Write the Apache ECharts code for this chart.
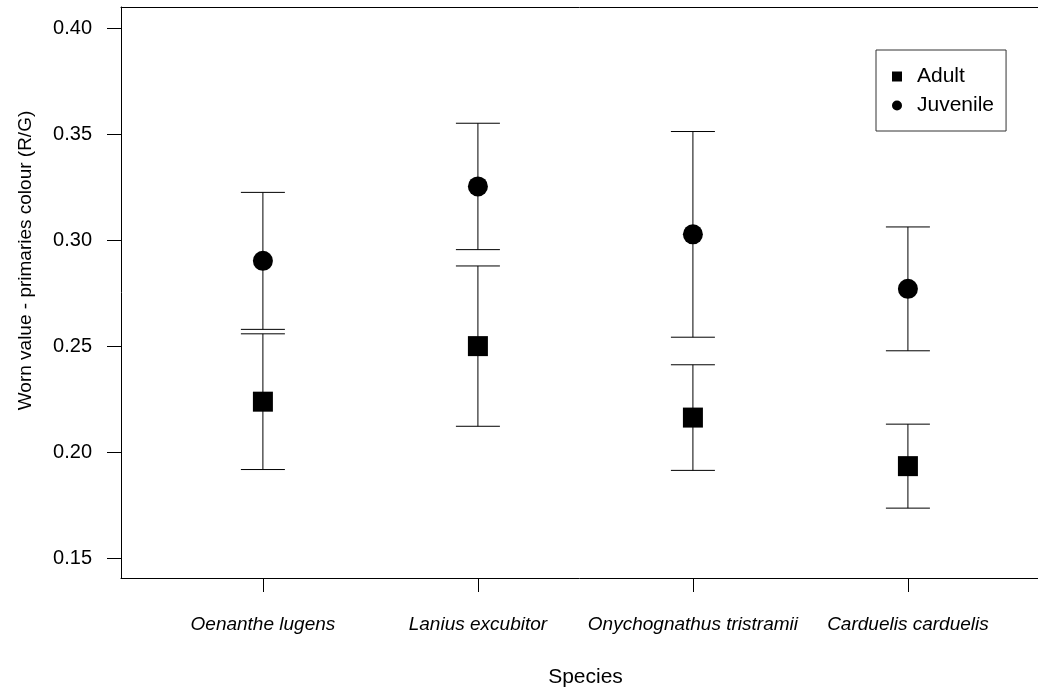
<!DOCTYPE html>
<html>
<head>
<meta charset="utf-8">
<title>Worn value - primaries colour</title>
<script src="https://cdn.jsdelivr.net/npm/echarts@6/dist/echarts.min.js"></script>
<style>
  html, body { margin: 0; padding: 0; background: #ffffff; }
  #chart { width: 1038px; height: 689px; }
</style>
</head>
<body>
<div id="chart"></div>
<script>
// Species along the x axis (positions 1..4)
const species = ['Oenanthe lugens', 'Lanius excubitor', 'Onychognathus tristramii', 'Carduelis carduelis'];

// Mean worn R/G value and half-width of the error bar, per species
const adultMean = [0.2238, 0.2500, 0.2163, 0.1934];
const adultErr = [0.0320, 0.0378, 0.0249, 0.0198];
const juvenileMean = [0.2902, 0.3253, 0.3027, 0.2770];
const juvenileErr = [0.0323, 0.0298, 0.0485, 0.0292];

// Tick values
const xTicks = [1, 2, 3, 4];
const yTicks = [0.15, 0.20, 0.25, 0.30, 0.35, 0.40];

const FONT = '"Liberation Sans", Arial, Helvetica, sans-serif';
const INK = '#000000';

function points(means) {
  return means.map((m, i) => [xTicks[i], m]);
}
function bars(means, errs) {
  return means.map((m, i) => [xTicks[i], m - errs[i], m + errs[i]]);
}

// Vertical error bar with flat caps at both ends
function renderErrorBar(params, api) {
  const x = api.value(0);
  const lo = api.coord([x, api.value(1)]);
  const hi = api.coord([x, api.value(2)]);
  const half = 22;
  const style = { stroke: INK, lineWidth: 1, fill: null };
  return {
    type: 'group',
    children: [
      { type: 'line', shape: { x1: lo[0], y1: lo[1], x2: hi[0], y2: hi[1] }, style },
      { type: 'line', shape: { x1: hi[0] - half, y1: hi[1], x2: hi[0] + half, y2: hi[1] }, style },
      { type: 'line', shape: { x1: lo[0] - half, y1: lo[1], x2: lo[0] + half, y2: lo[1] }, style }
    ]
  };
}

const chart = echarts.init(document.getElementById('chart'), null, { renderer: 'canvas' });

chart.setOption({
  animation: false,
  backgroundColor: '#ffffff',
  textStyle: { fontFamily: FONT, color: INK },
  grid: { left: 121, right: 0, top: 7, bottom: 111, containLabel: false, outerBoundsMode: 'none' },
  legend: {
    orient: 'vertical',
    left: 876,
    top: 50,
    data: ['Adult', 'Juvenile'],
    itemWidth: 10,
    itemHeight: 10,
    itemGap: 8,
    padding: [16, 12, 15, 16],
    borderColor: '#333333',
    borderWidth: 1,
    backgroundColor: '#ffffff',
    textStyle: { fontFamily: FONT, fontSize: 21, color: INK, padding: [0, 0, 0, 10], lineHeight: 21 },
    selectedMode: false
  },
  xAxis: [
    {
      type: 'value',
      position: 'bottom',
      min: 0.34,
      max: 4.605,
      name: 'Species',
      nameLocation: 'middle',
      nameGap: 89,
      nameTextStyle: { fontFamily: FONT, fontSize: 21, color: INK, padding: [0, 0, 0, 12] },
      axisLine: { show: true, onZero: false, lineStyle: { color: INK, width: 1 } },
      axisTick: { show: true, inside: false, length: 14, customValues: xTicks, lineStyle: { color: INK } },
      axisLabel: {
        show: true,
        customValues: xTicks,
        margin: 37,
        fontSize: 19,
        fontStyle: 'italic',
        fontFamily: FONT,
        color: INK,
        formatter: v => species[Math.round(v) - 1]
      },
      splitLine: { show: false }
    },
    {
      // top edge of the plot frame
      type: 'value',
      position: 'top',
      min: 0.34,
      max: 4.605,
      axisLine: { show: true, onZero: false, lineStyle: { color: INK, width: 1 } },
      axisTick: { show: false },
      axisLabel: { show: false },
      splitLine: { show: false }
    }
  ],
  yAxis: {
    type: 'value',
    min: 0.14065,
    max: 0.40992,
    name: 'Worn value - primaries colour (R/G)',
    nameLocation: 'middle',
    nameGap: 86,
    nameTextStyle: { fontFamily: FONT, fontSize: 19, color: INK, padding: [0, 0, 0, 64] },
    axisLine: { show: true, onZero: false, lineStyle: { color: INK, width: 1 } },
    axisTick: { show: true, inside: false, length: 14, customValues: yTicks, lineStyle: { color: INK } },
    axisLabel: {
      show: true,
      customValues: yTicks,
      margin: 29,
      fontSize: 20,
      fontFamily: FONT,
      color: INK,
      formatter: v => v.toFixed(2)
    },
    splitLine: { show: false }
  },
  series: [
    {
      name: 'Adult error',
      type: 'custom',
      xAxisIndex: 0,
      renderItem: renderErrorBar,
      data: bars(adultMean, adultErr),
      z: 1,
      silent: true
    },
    {
      name: 'Juvenile error',
      type: 'custom',
      xAxisIndex: 0,
      renderItem: renderErrorBar,
      data: bars(juvenileMean, juvenileErr),
      z: 1,
      silent: true
    },
    {
      name: 'Adult',
      type: 'scatter',
      xAxisIndex: 0,
      symbol: 'rect',
      symbolSize: 20,
      itemStyle: { color: INK, opacity: 1 },
      data: points(adultMean),
      z: 3
    },
    {
      name: 'Juvenile',
      type: 'scatter',
      xAxisIndex: 0,
      symbol: 'circle',
      symbolSize: 20,
      itemStyle: { color: INK, opacity: 1 },
      data: points(juvenileMean),
      z: 3
    }
  ]
});
</script>
</body>
</html>
